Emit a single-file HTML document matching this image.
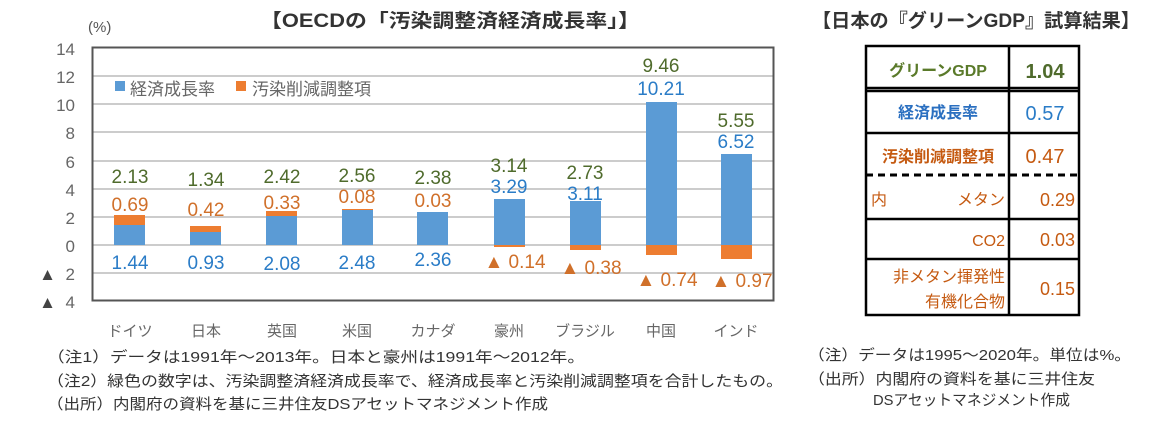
<!DOCTYPE html>
<html><head><meta charset="utf-8"><style>
html,body{margin:0;padding:0;background:#fff;}
svg{display:block;font-family:"Liberation Sans","Noto Sans CJK JP",sans-serif;}
</style></head><body>
<svg width="1167" height="423" viewBox="0 0 1167 423" xmlns="http://www.w3.org/2000/svg">
<rect width="1167" height="423" fill="#fff"/>
<text x="450" y="27" text-anchor="middle" font-size="19" font-weight="bold" fill="#333" textLength="380" lengthAdjust="spacingAndGlyphs">【OECDの「汚染調整済経済成長率」】</text>
<text x="88" y="32" font-size="15" fill="#555">(%)</text>
<g stroke="#ccc" stroke-width="2">
<line x1="93" x2="773" y1="76" y2="76"/><line x1="93" x2="773" y1="104" y2="104"/>
<line x1="93" x2="773" y1="132" y2="132"/><line x1="93" x2="773" y1="161" y2="161"/>
<line x1="93" x2="773" y1="189" y2="189"/><line x1="93" x2="773" y1="217" y2="217"/>
<line x1="93" x2="773" y1="245" y2="245"/><line x1="93" x2="773" y1="273" y2="273"/>
</g>
<rect x="92.5" y="47.5" width="681" height="253" fill="none" stroke="#555" stroke-width="2"/>
<g font-size="17" fill="#666" text-anchor="end">
<text x="75" y="55">14</text><text x="75" y="83">12</text><text x="75" y="111">10</text>
<text x="75" y="139">8</text><text x="75" y="168">6</text><text x="75" y="196">4</text>
<text x="75" y="224">2</text><text x="75" y="252">0</text>
<text x="75" y="280">2</text><text x="75" y="308">4</text>
<text x="56" y="280" font-size="17" fill="#444">▲</text><text x="56" y="308" font-size="17" fill="#444">▲</text>
</g>
<rect x="115" y="81" width="10" height="10" fill="#5b9bd5"/>
<text x="130" y="95" font-size="17" fill="#666">経済成長率</text>
<rect x="236" y="81" width="10" height="10" fill="#ed7d31"/>
<text x="252" y="95" font-size="17" fill="#666">汚染削減調整項</text>
<g>
<rect x="114" y="225" width="31" height="20" fill="#5b9bd5"/><rect x="114" y="215" width="31" height="10" fill="#ed7d31"/>
<rect x="190" y="232" width="31" height="13" fill="#5b9bd5"/><rect x="190" y="226" width="31" height="6" fill="#ed7d31"/>
<rect x="266" y="216" width="31" height="29" fill="#5b9bd5"/><rect x="266" y="211" width="31" height="5" fill="#ed7d31"/>
<rect x="342" y="210" width="31" height="35" fill="#5b9bd5"/><rect x="342" y="209" width="31" height="1" fill="#ed7d31"/>
<rect x="417" y="212" width="31" height="33" fill="#5b9bd5"/>
<rect x="494" y="199" width="31" height="46" fill="#5b9bd5"/><rect x="494" y="245" width="31" height="2" fill="#ed7d31"/>
<rect x="570" y="201" width="31" height="44" fill="#5b9bd5"/><rect x="570" y="245" width="31" height="5" fill="#ed7d31"/>
<rect x="646" y="102" width="31" height="143" fill="#5b9bd5"/><rect x="646" y="245" width="31" height="10" fill="#ed7d31"/>
<rect x="721" y="154" width="31" height="91" fill="#5b9bd5"/><rect x="721" y="245" width="31" height="14" fill="#ed7d31"/>
</g>
<g font-size="19" text-anchor="middle">
<g fill="#4f6b2c">
<text x="130" y="183">2.13</text><text x="206" y="186">1.34</text><text x="282" y="183">2.42</text>
<text x="357" y="182">2.56</text><text x="433" y="184">2.38</text><text x="509" y="172">3.14</text>
<text x="585" y="179">2.73</text><text x="661" y="72">9.46</text><text x="736" y="127">5.55</text>
</g>
<g fill="#d0702a">
<text x="130" y="211">0.69</text><text x="206" y="216">0.42</text><text x="282" y="209">0.33</text>
<text x="357" y="203">0.08</text><text x="433" y="207">0.03</text>
<text x="515" y="268">▲ 0.14</text><text x="591" y="274">▲ 0.38</text>
<text x="667" y="286">▲ 0.74</text><text x="742" y="287">▲ 0.97</text>
</g>
<g fill="#2a7cc7">
<text x="130" y="269">1.44</text><text x="206" y="269">0.93</text><text x="282" y="270">2.08</text>
<text x="357" y="269">2.48</text><text x="433" y="266">2.36</text><text x="509" y="193">3.29</text>
<text x="585" y="200">3.11</text><text x="661" y="95">10.21</text><text x="736" y="148">6.52</text>
</g>
</g>
<g font-size="15" fill="#666" text-anchor="middle">
<text x="130" y="336">ドイツ</text><text x="206" y="336">日本</text><text x="282" y="336">英国</text>
<text x="357" y="336">米国</text><text x="433" y="336">カナダ</text><text x="509" y="336">豪州</text>
<text x="585" y="336">ブラジル</text><text x="661" y="336">中国</text><text x="736" y="336">インド</text>
</g>
<g font-size="15" fill="#333">
<text x="47" y="362" textLength="538" lengthAdjust="spacingAndGlyphs">（注1）データは1991年～2013年。日本と豪州は1991年～2012年。</text>
<text x="47" y="386" textLength="736" lengthAdjust="spacingAndGlyphs">（注2）緑色の数字は、汚染調整済経済成長率で、経済成長率と汚染削減調整項を合計したもの。</text>
<text x="47" y="409" textLength="501" lengthAdjust="spacingAndGlyphs">（出所）内閣府の資料を基に三井住友DSアセットマネジメント作成</text>
</g>
<text x="812" y="27" font-size="19" font-weight="bold" fill="#333" textLength="328" lengthAdjust="spacingAndGlyphs">【日本の『グリーンGDP』試算結果】</text>
<g stroke="#000" stroke-width="2.5" fill="none">
<rect x="866" y="46" width="213" height="269"/>
<line x1="1009" y1="46" x2="1009" y2="315"/>
<line x1="866" y1="88" x2="1079" y2="88"/><line x1="866" y1="91" x2="1079" y2="91"/>
<line x1="866" y1="133" x2="1079" y2="133"/>
<line x1="866" y1="175" x2="1079" y2="175" stroke-dasharray="7,5" stroke-width="3"/>
<line x1="866" y1="219" x2="1079" y2="219"/><line x1="866" y1="259" x2="1079" y2="259"/>
</g>
<g font-weight="bold" text-anchor="middle">
<text x="938" y="76" font-size="16" fill="#5a7a2a">グリーンGDP</text>
<text x="1045" y="78" font-size="20" fill="#4f6b2c">1.04</text>
<text x="938" y="118" font-size="16" fill="#2a6fc0">経済成長率</text>
<text x="1045" y="120" font-size="20" fill="#2a7cc7" font-weight="normal">0.57</text>
<text x="938" y="162" font-size="16" fill="#c55a11">汚染削減調整項</text>
<text x="1045" y="163" font-size="20" fill="#c55a11" font-weight="normal">0.47</text>
</g>
<g font-size="16" fill="#c55a11">
<text x="871" y="205">内</text>
<text x="1005" y="205" text-anchor="end">メタン</text>
<text x="1075" y="206" text-anchor="end" font-size="18">0.29</text>
<text x="1005" y="246" text-anchor="end">CO2</text>
<text x="1075" y="246" text-anchor="end" font-size="18">0.03</text>
<text x="1005" y="282" text-anchor="end">非メタン揮発性</text>
<text x="1005" y="307" text-anchor="end">有機化合物</text>
<text x="1075" y="295" text-anchor="end" font-size="18">0.15</text>
</g>
<g font-size="15" fill="#333">
<text x="808" y="360" textLength="323" lengthAdjust="spacingAndGlyphs">（注）データは1995～2020年。単位は%。</text>
<text x="808" y="384" textLength="287" lengthAdjust="spacingAndGlyphs">（出所）内閣府の資料を基に三井住友</text>
<text x="873" y="405" textLength="197" lengthAdjust="spacingAndGlyphs">DSアセットマネジメント作成</text>
</g>
</svg>
</body></html>
